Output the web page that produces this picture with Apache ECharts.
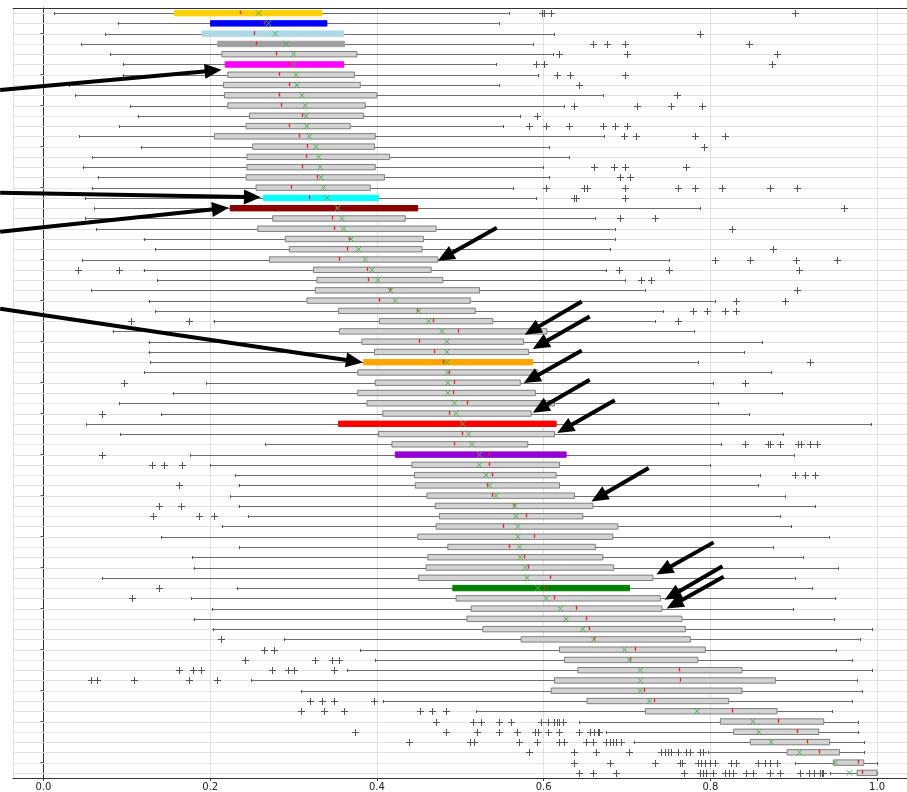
<!DOCTYPE html>
<html><head><meta charset="utf-8">
<script src="https://cdn.jsdelivr.net/npm/echarts@6/dist/echarts.min.js"></script>
<style>html,body{margin:0;padding:0;background:#fff}#c{width:907px;height:792px}</style>
</head><body><div id="c"></div>
<script>
// ---------------- data ----------------
const categories = Array.from({length: 75}, (_, i) => 'R' + (i + 1));

const whiskerLow = [0.013,0.089,0.074,0.045,0.080,0.095,0.095,0.030,0.038,0.104,
0.113,0.091,0.043,0.117,0.058,0.047,0.065,0.058,0.050,0.061,
0.050,0.063,0.120,0.134,0.046,0.120,0.136,0.057,0.126,0.134,
0.204,0.083,0.126,0.126,0.128,0.121,0.195,0.155,0.091,0.141,
0.051,0.092,0.266,0.176,0.200,0.230,0.234,0.224,0.234,0.245,
0.214,0.141,0.235,0.178,0.180,0.070,0.232,0.177,0.202,0.180,
0.203,0.288,0.380,0.398,0.364,0.249,0.309,0.407,0.519,0.643,
0.675,0.708,0.797,0.902,0.943];

const q1 = [0.157,0.2005,0.190,0.209,0.214,0.218,0.221,0.216,0.217,0.221,
0.247,0.243,0.205,0.251,0.244,0.244,0.243,0.255,0.264,0.224,
0.275,0.257,0.290,0.295,0.271,0.324,0.328,0.326,0.316,0.354,
0.403,0.355,0.382,0.397,0.384,0.377,0.398,0.377,0.388,0.407,
0.354,0.402,0.418,0.422,0.442,0.445,0.446,0.460,0.470,0.475,
0.471,0.449,0.485,0.461,0.459,0.450,0.491,0.495,0.513,0.508,
0.527,0.573,0.619,0.625,0.641,0.613,0.609,0.652,0.722,0.812,
0.828,0.848,0.892,0.948,0.976];

const median = [0.236,0.265,0.252,0.255,0.279,0.294,0.282,0.295,0.283,0.285,
0.310,0.295,0.307,0.316,0.315,0.310,0.328,0.297,0.319,0.351,
0.346,0.348,0.366,0.364,0.354,0.388,0.389,0.416,0.402,0.448,
0.467,0.497,0.450,0.469,0.479,0.486,0.493,0.491,0.508,0.487,
0.500,0.502,0.492,0.535,0.535,0.538,0.532,0.538,0.565,0.579,
0.551,0.588,0.559,0.576,0.581,0.608,0.601,0.612,0.639,0.651,
0.654,0.660,0.709,0.704,0.762,0.764,0.720,0.732,0.826,0.881,
0.904,0.916,0.930,0.977,0.982];

const q3 = [0.334,0.340,0.360,0.361,0.376,0.360,0.373,0.380,0.400,0.386,
0.384,0.368,0.398,0.397,0.415,0.398,0.409,0.392,0.402,0.449,
0.434,0.471,0.456,0.454,0.473,0.465,0.479,0.523,0.512,0.518,
0.539,0.604,0.576,0.582,0.587,0.593,0.572,0.590,0.613,0.585,
0.615,0.613,0.581,0.627,0.619,0.615,0.619,0.637,0.659,0.647,
0.689,0.683,0.662,0.671,0.684,0.731,0.703,0.740,0.742,0.766,
0.770,0.776,0.794,0.785,0.838,0.878,0.838,0.822,0.880,0.936,
0.930,0.943,0.955,0.984,1.000];

const whiskerHigh = [0.558,0.546,0.613,0.587,0.611,0.543,0.593,0.547,0.671,0.625,
0.572,0.551,0.673,0.607,0.631,0.599,0.607,0.563,0.591,0.788,
0.662,0.685,0.685,0.680,0.750,0.675,0.698,0.721,0.805,0.743,
0.733,0.780,0.862,0.840,0.785,0.873,0.803,0.886,0.809,0.846,
0.993,0.887,0.813,0.900,0.800,0.860,0.857,0.890,0.926,0.884,
0.897,0.942,0.875,0.911,0.953,0.901,0.922,0.949,0.899,0.948,
0.994,0.979,0.951,0.970,0.994,0.976,0.982,0.970,0.946,0.977,
0.977,0.984,0.984,1.000,1.000];

const means = [0.258,0.270,0.278,0.291,0.300,0.300,0.303,0.304,0.310,0.314,
0.315,0.316,0.319,0.327,0.330,0.332,0.333,0.336,0.340,0.353,
0.358,0.360,0.369,0.378,0.386,0.394,0.401,0.416,0.422,0.450,
0.462,0.478,0.484,0.484,0.484,0.485,0.485,0.485,0.493,0.495,
0.503,0.510,0.514,0.523,0.523,0.531,0.535,0.543,0.565,0.567,
0.569,0.569,0.571,0.572,0.578,0.580,0.593,0.603,0.620,0.627,
0.647,0.660,0.697,0.703,0.716,0.716,0.716,0.727,0.784,0.851,
0.858,0.873,0.907,0.950,0.967];

const outliers = [
[0.5985,0.6005,0.6085,0.901], [], [0.788], [0.659,0.676,0.698,0.846], [0.619,0.700,0.880],
[0.591,0.601,0.874], [0.616,0.632,0.697], [0.643], [0.760], [0.637,0.712,0.753,0.790],
[0.592], [0.583,0.603,0.631,0.671,0.686,0.700], [0.696,0.711,0.781,0.817], [0.792], [],
[0.660,0.684,0.698,0.771], [0.692,0.703], [0.603,0.649,0.652,0.697,0.761,0.781,0.814,0.872,0.904], [0.637,0.639,0.697], [0.960],
[0.692,0.734], [0.826], [], [0.875], [0.805,0.848,0.903,0.952],
[0.041,0.090,0.690,0.750,0.906], [0.717,0.729], [0.904], [0.831,0.890], [0.779,0.796,0.817,0.831],
[0.105,0.175,0.761], [], [], [], [0.919],
[], [0.096,0.842], [], [], [0.070],
[], [], [0.842,0.869,0.872,0.883,0.905,0.909,0.919,0.928], [0.070], [0.130,0.144,0.166],
[0.902,0.914,0.926], [0.162], [], [0.138,0.165], [0.131,0.187,0.204],
[], [], [], [], [],
[], [0.138], [0.106], [], [],
[], [0.213], [0.264,0.276], [0.242,0.326,0.346,0.354], [0.162,0.179,0.189,0.274,0.293,0.300,0.348],
[0.057,0.064,0.108,0.175,0.208], [], [0.320,0.334,0.349,0.396], [0.309,0.337,0.360,0.452,0.466,0.483], [0.471,0.515,0.525,0.547,0.561,0.597,0.605,0.613,0.616,0.619,0.623],
[0.374,0.483,0.520,0.547,0.568,0.590,0.593,0.605,0.619,0.642,0.656,0.660,0.665,0.667],
[0.439,0.512,0.517,0.571,0.592,0.619,0.625,0.651,0.659,0.675,0.679,0.683,0.687,0.693],
[0.583,0.637,0.663,0.702,0.741,0.745,0.749,0.753,0.761,0.771,0.775,0.787,0.791],
[0.637,0.680,0.733,0.763,0.766,0.785,0.789,0.793,0.799,0.805,0.825,0.831,0.857,0.865,0.871,0.880],
[0.643,0.659,0.687,0.768,0.787,0.791,0.795,0.803,0.817,0.822,0.827,0.843,0.851,0.871,0.884,0.907,0.918,0.924,0.932,0.934,0.935]
];

const xTickLabels = ['0.0','0.2','0.4','0.6','0.8','1.0'];

// highlighted rows (index -> fill colour)
const highlightIndex = [0, 1, 2, 3, 5, 18, 19, 34, 40, 43, 56];
const highlightColor = ['#fcd000', '#0000ff', '#add8e6', '#a0a0a0', '#ff00ff', '#00ffff', '#8b0000', '#ffa500', '#ff0000', '#9400d3', '#008000'];

// annotation arrows: [tailValue, tailRow, headValue, headRow]
const arrows = [
  [-0.052, 7.48, 0.2137, 5.52],
  [-0.052, 17.50, 0.2608, 17.94],
  [-0.052, 21.29, 0.2224, 18.96],
  [-0.052, 28.80, 0.3831, 34.02],
  [0.5438, 20.91, 0.4730, 24.12],
  [0.6457, 28.08, 0.5773, 31.32],
  [0.6553, 29.54, 0.5869, 32.72],
  [0.6457, 32.85, 0.5761, 36.03],
  [0.6553, 35.71, 0.5869, 38.92],
  [0.6853, 37.70, 0.6163, 40.90],
  [0.7260, 44.30, 0.6573, 47.56],
  [0.8039, 51.55, 0.7352, 54.69],
  [0.8144, 53.88, 0.7452, 57.13],
  [0.8159, 54.89, 0.7476, 58.00]
];

// ---------------- chart ----------------
const seriesData = categories.map((c, i) => [i, whiskerLow[i], q1[i], median[i], q3[i], whiskerHigh[i], means[i]]);

const px = v => Math.round(v) + 0.5;

function renderItem(params, api) {
  const i = api.value(0);
  const cs = params.coordSys;
  const yc = api.coord([0, i])[1];
  const y = px(yc);
  const X = v => api.coord([v, i])[0];
  const hIdx = highlightIndex.indexOf(i);
  const fill = hIdx >= 0 ? highlightColor[hIdx] : '#d3d3d3';
  const edge = hIdx >= 0 ? highlightColor[hIdx] : '#7f7f7f';
  const bh = 5.4;
  const ch = [];
  ch.push({type: 'line', silent: true, shape: {x1: cs.x, y1: y, x2: cs.x + cs.width, y2: y}, style: {stroke: '#e2e2e2', lineWidth: 1}});
  const xwl = X(api.value(1)), xq1 = X(api.value(2)), xmed = X(api.value(3)), xq3 = X(api.value(4)), xwh = X(api.value(5)), xmean = X(api.value(6));
  ch.push({type: 'line', shape: {x1: xwl, y1: y, x2: xq1, y2: y}, style: {stroke: '#6e6e6e', lineWidth: 1}});
  ch.push({type: 'line', shape: {x1: xq3, y1: y, x2: xwh, y2: y}, style: {stroke: '#6e6e6e', lineWidth: 1}});
  ch.push({type: 'line', shape: {x1: px(xwl) , y1: y - 1.5, x2: px(xwl), y2: y + 1.5}, style: {stroke: '#555', lineWidth: 1}});
  ch.push({type: 'line', shape: {x1: px(xwh), y1: y - 1.5, x2: px(xwh), y2: y + 1.5}, style: {stroke: '#555', lineWidth: 1}});
  ch.push({type: 'rect', shape: {x: xq1, y: yc - bh / 2, width: xq3 - xq1, height: bh},
    style: {fill: fill, stroke: edge, lineWidth: 1}});
  ch.push({type: 'line', shape: {x1: px(xmed), y1: yc - 2.6, x2: px(xmed), y2: yc + 1.2}, style: {stroke: '#ff1a1a', lineWidth: 1.3}});
  const m = 2.8;
  ch.push({type: 'line', shape: {x1: xmean - m, y1: yc - m, x2: xmean + m, y2: yc + m}, style: {stroke: '#4fb04f', lineWidth: 1}});
  ch.push({type: 'line', shape: {x1: xmean - m, y1: yc + m, x2: xmean + m, y2: yc - m}, style: {stroke: '#4fb04f', lineWidth: 1}});
  const o = 3.5;
  (outliers[i] || []).forEach(v => {
    const xo = px(X(v));
    ch.push({type: 'line', shape: {x1: xo - o, y1: y, x2: xo + o, y2: y}, style: {stroke: '#555', lineWidth: 1}});
    ch.push({type: 'line', shape: {x1: xo, y1: y - o, x2: xo, y2: y + o}, style: {stroke: '#555', lineWidth: 1}});
  });
  return {type: 'group', children: ch};
}

const X_MIN = -0.0366, X_MAX = 1.0359;

const chart = echarts.init(document.getElementById('c'), null, {renderer: 'canvas'});
chart.setOption({
  animation: false,
  backgroundColor: '#ffffff',
  textStyle: {fontFamily: 'DejaVu Sans'},
  grid: {left: 13, right: 0, top: 8, bottom: 14, containLabel: false},
  xAxis: [{
    type: 'value', min: X_MIN, max: X_MAX, splitNumber: 5, position: 'bottom',
    axisLine: {show: true, lineStyle: {color: '#333'}},
    axisTick: {show: true, length: 3, lineStyle: {color: '#333'}},
    axisLabel: {
      color: '#222', fontSize: 10, margin: 4, showMinLabel: false, showMaxLabel: false,
      formatter: v => {
        const k = Math.round(v * 5);
        return (Math.abs(v * 5 - k) < 1e-6 && k >= 0 && k < xTickLabels.length) ? xTickLabels[k] : '';
      }
    },
    splitLine: {show: true, lineStyle: {color: '#e0e0e0', width: 1}}
  }, {
    type: 'value', min: X_MIN, max: X_MAX, position: 'top',
    axisLine: {show: true, lineStyle: {color: '#333'}},
    axisTick: {show: false}, axisLabel: {show: false}, splitLine: {show: false}
  }],
  yAxis: {
    type: 'category', data: categories, inverse: true,
    axisLine: {show: true, lineStyle: {color: '#333'}},
    axisTick: {show: true, interval: 0, alignWithLabel: true, length: 3, lineStyle: {color: '#555'}},
    axisLabel: {show: false, interval: 0},
    splitLine: {show: false}
  },
  series: [{
    type: 'custom',
    renderItem: renderItem,
    data: seriesData,
    encode: {x: [1, 2, 3, 4, 5, 6], y: 0},
    xAxisIndex: 0,
    clip: false,
    z: 2
  }]
});

function rowToPixel(r) {
  const y0 = chart.convertToPixel({yAxisIndex: 0}, 0);
  const y1 = chart.convertToPixel({yAxisIndex: 0}, 1);
  return y0 + r * (y1 - y0);
}
const graphics = [];
arrows.forEach(a => {
  const t = [chart.convertToPixel({xAxisIndex: 0}, a[0]), rowToPixel(a[1])];
  const h = [chart.convertToPixel({xAxisIndex: 0}, a[2]), rowToPixel(a[3])];
  const dx = h[0] - t[0], dy = h[1] - t[1];
  const len = Math.hypot(dx, dy), ux = dx / len, uy = dy / len;
  const L = 17, W = 7.5;
  const bx = h[0] - ux * L, by = h[1] - uy * L;
  graphics.push({type: 'line', z: 100, shape: {x1: t[0], y1: t[1], x2: bx + ux * 2, y2: by + uy * 2}, style: {stroke: '#000', lineWidth: 4}});
  graphics.push({type: 'polygon', z: 100, shape: {points: [[h[0], h[1]], [bx - uy * W, by + ux * W], [bx + uy * W, by - ux * W]]}, style: {fill: '#000'}});
});
chart.setOption({graphic: graphics});
</script>
</body></html>
